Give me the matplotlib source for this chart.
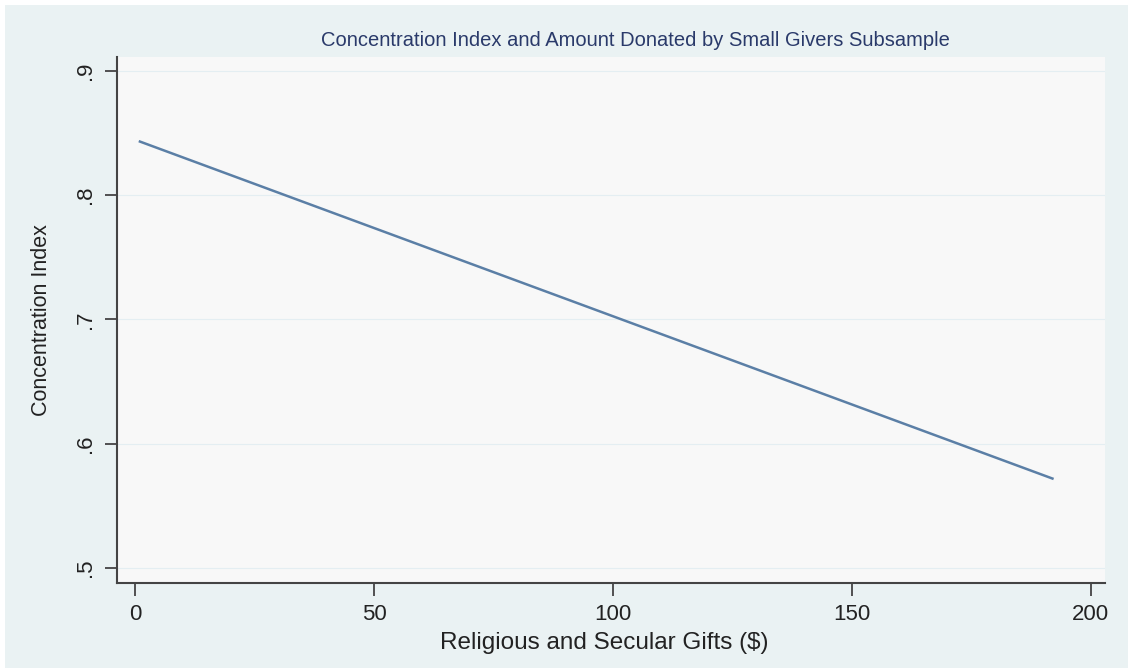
import numpy as np
import matplotlib
matplotlib.use("Agg")
from matplotlib import pyplot as plt
from matplotlib.patches import Rectangle

# dane (linia dopasowania)
gifts = [1, 192]
conc_index = [0.843, 0.572]
x_ticks = [0, 50, 100, 150, 200]
y_ticks = [0.5, 0.6, 0.7, 0.8, 0.9]
y_tick_labels = [".5", ".6", ".7", ".8", ".9"]

plt.rcParams['font.family'] = ['Liberation Sans', 'DejaVu Sans']

fig = plt.figure(figsize=(11.28, 6.68), dpi=100)
fig.patch.set_facecolor('white')
# tlo w stylu Stata (jasnoniebieskie), z cienkim bialym marginesem u gory i z lewej
fig.patches.append(Rectangle((5/1128, 0), 1, 1 - 5/668, transform=fig.transFigure,
                             facecolor='#eaf2f3', edgecolor='none', zorder=-5))

ax = fig.add_axes([117/1128, 1 - 583/668, (1105 - 117)/1128, (583 - 57)/668])
ax.set_zorder(1)
ax.set_facecolor('#f8f8f8')
ax.plot(gifts, conc_index, color='#5b7fa6', lw=1.8, zorder=3)

ax.set_xlim(-3.8, 203)
ax.set_ylim(0.488, 0.911)
ax.set_xticks(x_ticks)
ax.set_yticks(y_ticks)
ax.set_yticklabels(y_tick_labels)
ax.tick_params(axis='both', labelsize=16, length=9, width=1.3, color='#444444',
               labelcolor='#222222', pad=6)
for lab in ax.get_yticklabels():
    lab.set_rotation(90)
    lab.set_va('center')

for y in y_ticks:
    ax.axhline(y, color='#e4eef2', lw=0.8, zorder=1)

ax.spines['top'].set_visible(False)
ax.spines['right'].set_visible(False)
ax.spines['left'].set_color('#444444')
ax.spines['bottom'].set_color('#444444')
ax.spines['left'].set_linewidth(1.5)
ax.spines['bottom'].set_linewidth(1.5)

fig.text(635/1128, 1 - 40/668, 'Concentration Index and Amount Donated by Small Givers Subsample',
         ha='center', va='center', fontsize=14.5, color='#2a3a6a')
fig.text(604/1128, 1 - 643/668, 'Religious and Secular Gifts ($)', ha='center', va='center',
         fontsize=17.5, color='#222222')
fig.text(42/1128, 1 - 320/668, 'Concentration Index', ha='center', va='center', rotation=90,
         fontsize=15.5, color='#222222')

fig.savefig('out.png', dpi=100)
